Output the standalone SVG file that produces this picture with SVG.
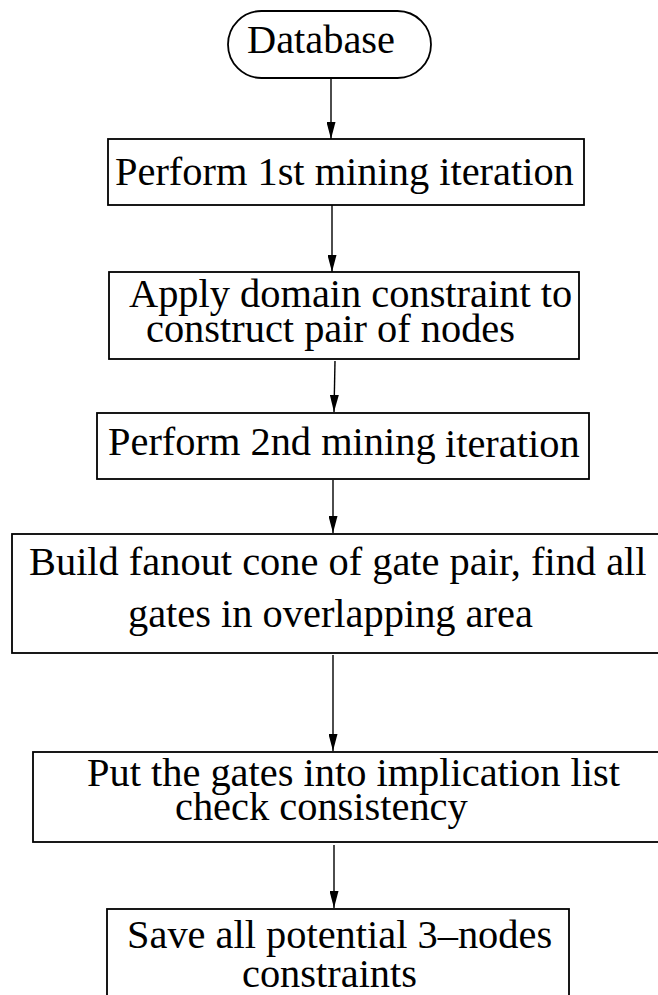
<svg xmlns="http://www.w3.org/2000/svg" width="658" height="995" viewBox="0 0 658 995">
  <defs>
    <!-- slim filled arrowhead, drawn along +x so orient="auto" follows the line -->
    <marker id="arrowhead" markerWidth="17" markerHeight="9" refX="17" refY="4.5" orient="auto" markerUnits="userSpaceOnUse" viewBox="0 0 17 9">
      <path d="M0,0 L17,4.5 L0,9 Z" fill="#000"/>
    </marker>
  </defs>
  <style>
    .box { fill: #fff; stroke: #000; stroke-width: 1.8; }
    .lbl { font-family: "Liberation Serif", "Times New Roman", serif; font-size: 40.4px; fill: #000; }
    .edge { stroke: #000; stroke-width: 1.4; fill: none; marker-end: url(#arrowhead); }
  </style>
  <rect width="658" height="995" fill="#fff"/>

  <g id="connectors">
    <line class="edge" x1="331" y1="78" x2="331" y2="139"/>
    <line class="edge" x1="332" y1="205" x2="332" y2="272"/>
    <line class="edge" x1="335" y1="361" x2="334" y2="412"/>
    <line class="edge" x1="333" y1="480" x2="333" y2="533"/>
    <line class="edge" x1="333" y1="655" x2="333" y2="751"/>
    <line class="edge" x1="334" y1="845" x2="334" y2="908"/>
  </g>

  <g id="database">
    <rect class="box" x="228" y="11" width="203" height="67" rx="33.5" ry="33.5"/>
    <text class="lbl" x="247" y="53">Database</text>
  </g>

  <g id="mining1">
    <rect class="box" x="108" y="139" width="476" height="66"/>
    <text class="lbl" x="115" y="185">Perform 1st mining iteration</text>
  </g>

  <g id="domain-constraint">
    <rect class="box" x="109" y="272" width="470" height="87"/>
    <text class="lbl" x="129" y="307">Apply domain constraint to</text>
    <text class="lbl" x="146" y="342">construct pair of nodes</text>
  </g>

  <g id="mining2">
    <rect class="box" x="97" y="413" width="492" height="66"/>
    <text class="lbl" x="108" y="455">Perform 2nd mining <tspan x="445" y="457">iteration</tspan></text>
  </g>

  <g id="fanout-cone">
    <rect class="box" x="12" y="534" width="660" height="119"/>
    <text class="lbl" x="29" y="575">Build fanout cone of gate pair, find all</text>
    <text class="lbl" x="128" y="627">gates in overlapping area</text>
  </g>

  <g id="implication">
    <rect class="box" x="33" y="752" width="640" height="90"/>
    <text class="lbl" x="87" y="786">Put the gates into implication list</text>
    <text class="lbl" x="175" y="820">check consistency</text>
  </g>

  <g id="save-constraints">
    <rect class="box" x="107" y="909" width="462" height="100"/>
    <text class="lbl" x="127" y="948">Save all potential 3–nodes</text>
    <text class="lbl" x="242" y="987">constraints</text>
  </g>
</svg>
